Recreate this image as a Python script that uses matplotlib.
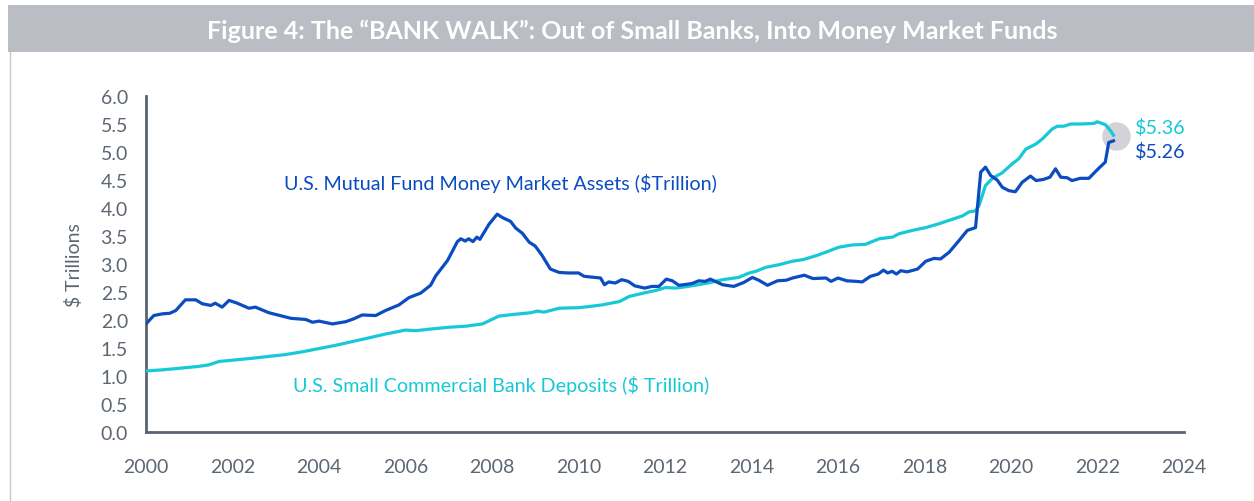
import matplotlib.pyplot as plt
from matplotlib.patches import Rectangle
from matplotlib.lines import Line2D

plt.rcParams['font.family'] = ['Lato', 'DejaVu Sans']

# money market fund assets ($ trillion)
mmf_t = [2000.00, 2000.18, 2000.38, 2000.55, 2000.69, 2000.91, 2001.15, 2001.30, 2001.50, 2001.60,
         2001.76, 2001.92, 2002.11, 2002.38, 2002.53, 2002.84, 2003.10, 2003.35, 2003.69, 2003.85,
         2004.00, 2004.31, 2004.62, 2004.80, 2005.00, 2005.31, 2005.54, 2005.85, 2006.08, 2006.35,
         2006.58, 2006.70, 2006.97, 2007.20, 2007.28, 2007.38, 2007.46, 2007.56, 2007.65, 2007.72,
         2007.93, 2008.12, 2008.24, 2008.43, 2008.55, 2008.70, 2008.86, 2009.00, 2009.16, 2009.35,
         2009.55, 2009.75, 2010.00, 2010.13, 2010.51, 2010.60, 2010.70, 2010.85, 2011.00, 2011.15,
         2011.30, 2011.53, 2011.70, 2011.86, 2012.03, 2012.17, 2012.32, 2012.43, 2012.62, 2012.78,
         2012.93, 2013.05, 2013.16, 2013.33, 2013.59, 2013.82, 2014.02, 2014.17, 2014.37, 2014.60,
         2014.80, 2014.95, 2015.22, 2015.42, 2015.72, 2015.84, 2016.00, 2016.20, 2016.42, 2016.56,
         2016.75, 2016.93, 2017.05, 2017.15, 2017.25, 2017.35, 2017.45, 2017.60, 2017.84, 2018.03,
         2018.22, 2018.37, 2018.57, 2018.80, 2018.99, 2019.10, 2019.18, 2019.30, 2019.41, 2019.53,
         2019.68, 2019.80, 2019.95, 2020.10, 2020.26, 2020.45, 2020.58, 2020.75, 2020.90, 2021.03,
         2021.15, 2021.30, 2021.41, 2021.60, 2021.80, 2022.03, 2022.18, 2022.26, 2022.37]
mmf_v = [1.93, 2.08, 2.11, 2.12, 2.17, 2.36, 2.36, 2.29, 2.26, 2.30,
         2.23, 2.35, 2.30, 2.21, 2.23, 2.13, 2.08, 2.03, 2.01, 1.96,
         1.98, 1.93, 1.97, 2.02, 2.09, 2.08, 2.17, 2.27, 2.40, 2.48,
         2.62, 2.79, 3.06, 3.40, 3.45, 3.41, 3.45, 3.40, 3.48, 3.44,
         3.71, 3.89, 3.83, 3.76, 3.64, 3.55, 3.39, 3.32, 3.15, 2.91,
         2.85, 2.84, 2.84, 2.78, 2.75, 2.63, 2.68, 2.66, 2.72, 2.69,
         2.61, 2.57, 2.60, 2.60, 2.73, 2.70, 2.62, 2.63, 2.65, 2.70,
         2.69, 2.73, 2.69, 2.63, 2.60, 2.67, 2.76, 2.71, 2.62, 2.70,
         2.71, 2.75, 2.80, 2.74, 2.75, 2.69, 2.75, 2.70, 2.69, 2.68,
         2.78, 2.82, 2.89, 2.84, 2.87, 2.82, 2.88, 2.86, 2.91, 3.05,
         3.10, 3.09, 3.21, 3.42, 3.60, 3.63, 3.65, 4.64, 4.73, 4.58,
         4.50, 4.37, 4.31, 4.29, 4.46, 4.57, 4.49, 4.51, 4.55, 4.70,
         4.55, 4.54, 4.49, 4.53, 4.53, 4.71, 4.82, 5.17, 5.20]

# small commercial bank deposits ($ trillion)
bank_t = [2000.00, 2000.38, 2000.80, 2001.20, 2001.46, 2001.69, 2002.10, 2002.50, 2002.84, 2003.20,
          2003.60, 2004.00, 2004.40, 2004.80, 2005.15, 2005.54, 2006.00, 2006.25, 2006.60, 2007.00,
          2007.40, 2007.78, 2007.97, 2008.16, 2008.50, 2008.90, 2009.05, 2009.20, 2009.55, 2010.00,
          2010.24, 2010.55, 2010.95, 2011.17, 2011.50, 2011.80, 2012.01, 2012.25, 2012.45, 2012.77,
          2013.05, 2013.33, 2013.70, 2013.95, 2014.10, 2014.33, 2014.65, 2014.95, 2015.20, 2015.50,
          2015.75, 2016.02, 2016.33, 2016.63, 2016.95, 2017.26, 2017.41, 2017.72, 2018.03, 2018.34,
          2018.65, 2018.88, 2019.03, 2019.18, 2019.26, 2019.41, 2019.57, 2019.80, 2020.03, 2020.18,
          2020.34, 2020.57, 2020.72, 2020.95, 2021.07, 2021.22, 2021.38, 2021.61, 2021.92, 2021.99,
          2022.18, 2022.30, 2022.37]
bank_v = [1.09, 1.11, 1.14, 1.17, 1.20, 1.26, 1.29, 1.32, 1.35, 1.38,
          1.43, 1.49, 1.55, 1.62, 1.68, 1.75, 1.82, 1.81, 1.84, 1.87,
          1.89, 1.93, 2.00, 2.07, 2.10, 2.13, 2.16, 2.14, 2.21, 2.22,
          2.24, 2.27, 2.33, 2.42, 2.48, 2.53, 2.58, 2.57, 2.59, 2.63,
          2.67, 2.72, 2.76, 2.84, 2.87, 2.94, 2.99, 3.05, 3.08, 3.15,
          3.22, 3.30, 3.34, 3.35, 3.45, 3.48, 3.54, 3.60, 3.65, 3.72,
          3.80, 3.86, 3.93, 3.95, 4.04, 4.40, 4.53, 4.63, 4.79, 4.88,
          5.05, 5.14, 5.23, 5.41, 5.46, 5.46, 5.50, 5.50, 5.51, 5.54,
          5.49, 5.38, 5.30]

years = list(range(2000, 2025, 2))
yticks = [0.0, 0.5, 1.0, 1.5, 2.0, 2.5, 3.0, 3.5, 4.0, 4.5, 5.0, 5.5, 6.0]

dark_blue = '#0b4cc0'
cyan = '#17c9d6'
grey_txt = '#5d6772'

fig = plt.figure(figsize=(12.54, 5.02), dpi=100)

# title bar and left border of the panel
fig.patches.append(Rectangle((8 / 1254, 1 - 53 / 502), 1, 47 / 502, transform=fig.transFigure,
                             facecolor='#babdc4', edgecolor='none', zorder=0))
fig.lines.append(Line2D([10 / 1254, 10 / 1254], [0, 1 - 53 / 502], transform=fig.transFigure,
                        color='#c6c8cc', lw=1))
fig.text(632 / 1254, 1 - 31 / 502, 'Figure 4: The \u201cBANK WALK\u201d: Out of Small Banks, Into Money Market Funds',
         ha='center', va='center', color='white', fontsize=18, fontweight='bold')

ax = fig.add_axes([146 / 1254, 69 / 502, 1038 / 1254, 336 / 502])
ax.plot(bank_t, bank_v, color=cyan, lw=2.3, zorder=3)
ax.plot(mmf_t, mmf_v, color=dark_blue, lw=2.3, zorder=3)
ax.scatter([2022.43], [5.29], s=420, color='#d2d3d8', zorder=2, linewidths=0)

ax.set_xlim(2000, 2024)
ax.set_ylim(0, 6)
ax.set_xticks(years)
ax.set_yticks(yticks)
ax.set_yticklabels(['%.1f' % v for v in yticks])
ax.tick_params(length=0, labelsize=14, labelcolor=grey_txt)
ax.tick_params(axis='x', pad=19)
ax.tick_params(axis='y', pad=13)
for s in ['top', 'right']:
    ax.spines[s].set_visible(False)
for s in ['left', 'bottom']:
    ax.spines[s].set_color('#5a6470')
    ax.spines[s].set_linewidth(2)
ax.set_ylabel('$ Trillions', fontsize=14, color=grey_txt, labelpad=13)

ax.text(2008.2, 4.45, 'U.S. Mutual Fund Money Market Assets ($Trillion)', color=dark_blue,
        fontsize=14.2, ha='center', va='center')
ax.text(2008.2, 0.84, 'U.S. Small Commercial Bank Deposits ($ Trillion)', color=cyan,
        fontsize=14.2, ha='center', va='center')
ax.text(2022.87, 5.45, '$5.36', color=cyan, fontsize=14.2, ha='left', va='center', clip_on=False)
ax.text(2022.87, 5.02, '$5.26', color=dark_blue, fontsize=14.2, ha='left', va='center', clip_on=False)

fig.savefig('out.png', dpi=100)
